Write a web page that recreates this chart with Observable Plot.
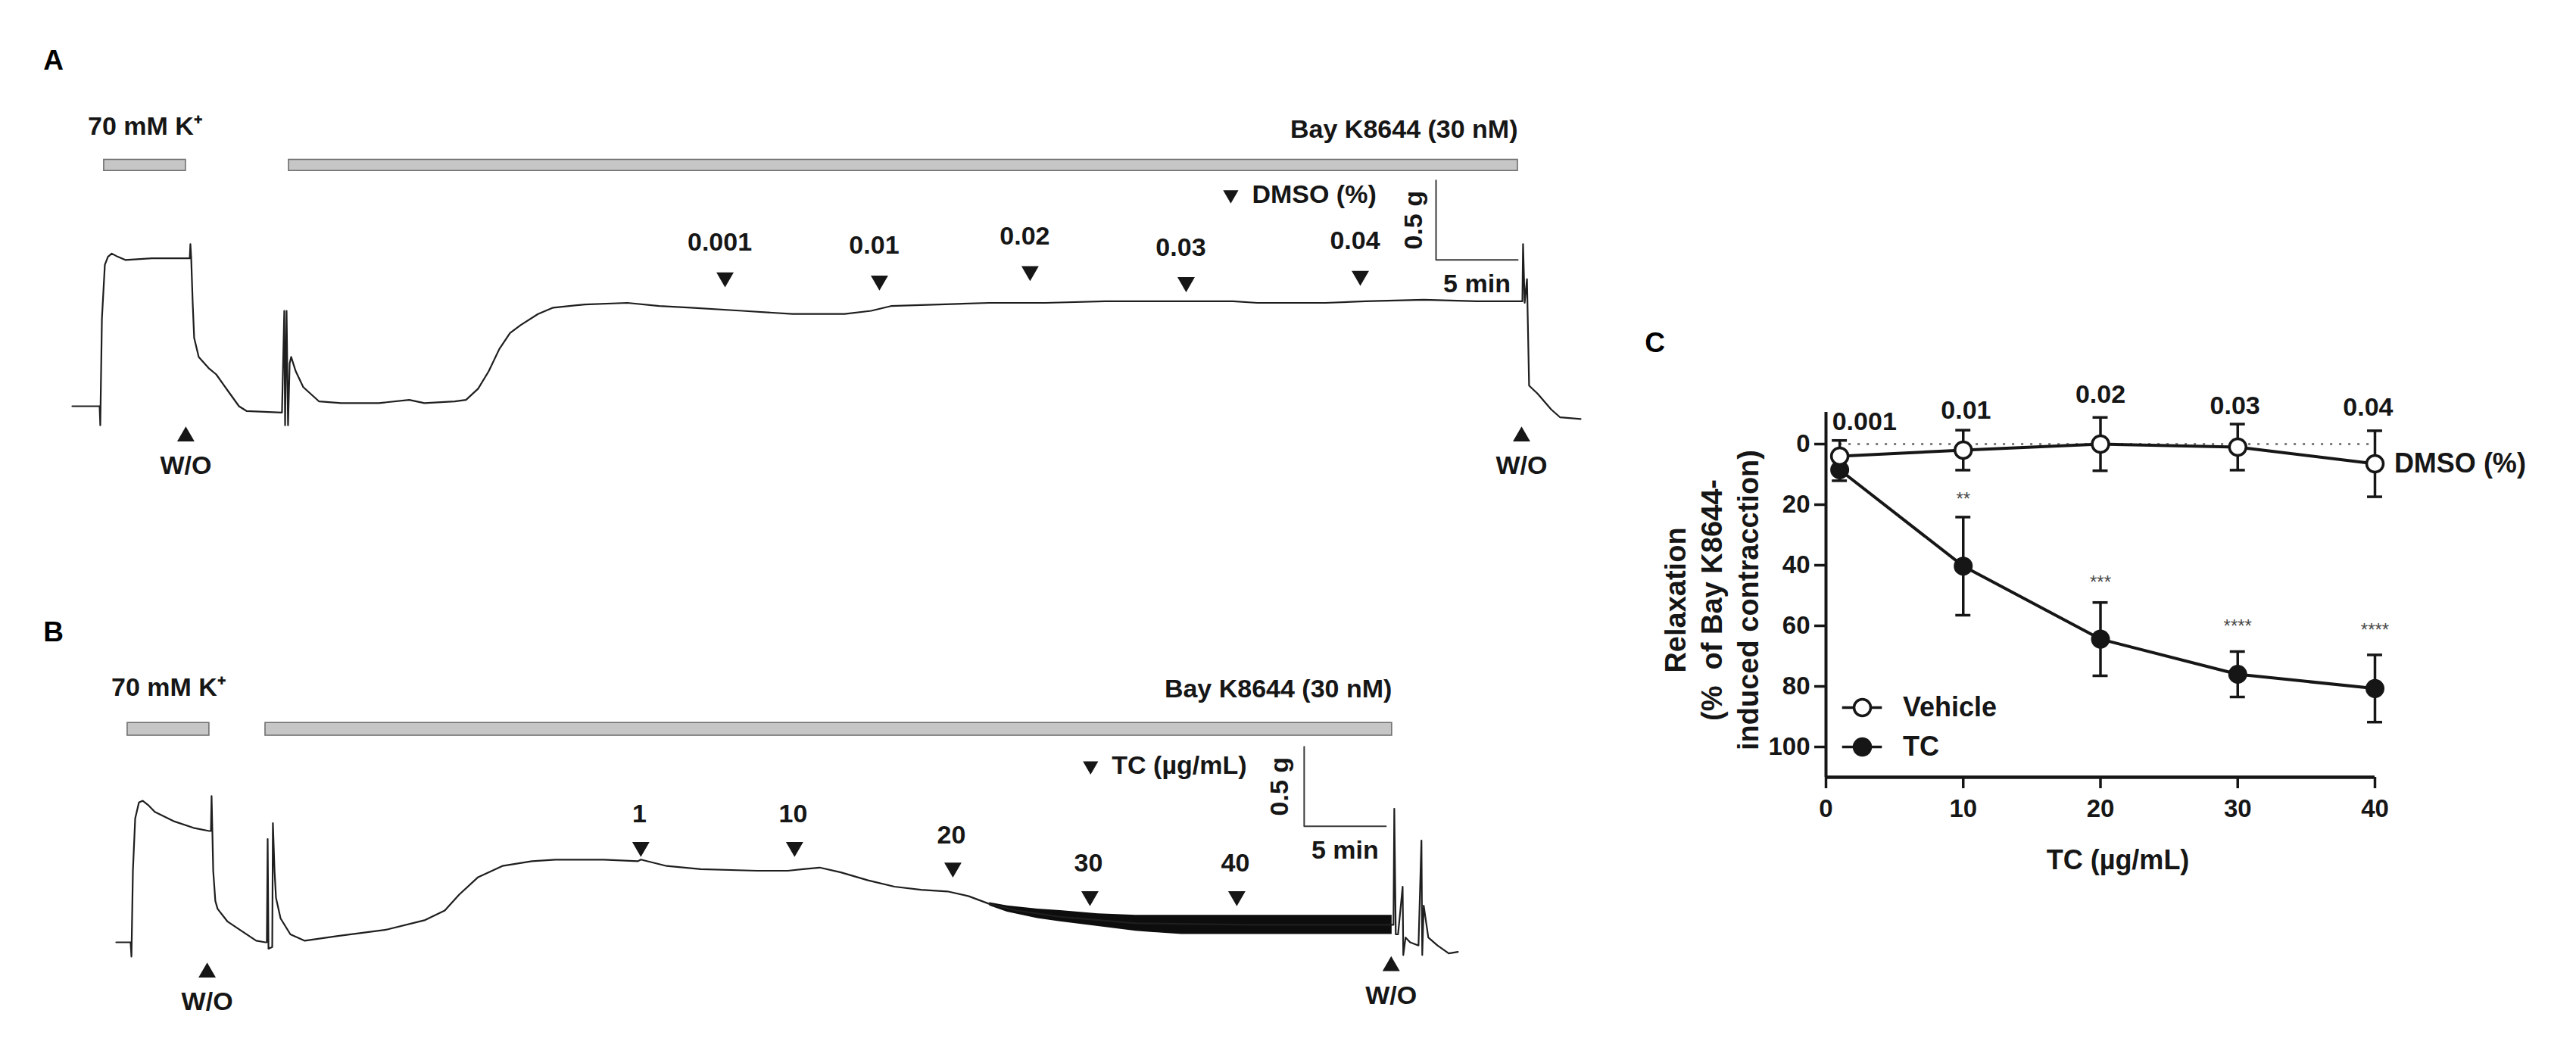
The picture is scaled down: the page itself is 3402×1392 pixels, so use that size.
<!DOCTYPE html>
<html><head><meta charset="utf-8">
<script src="https://cdn.jsdelivr.net/npm/d3@7"></script>
<script src="https://cdn.jsdelivr.net/npm/@observablehq/plot@0.6"></script>
<style>
body{margin:0;background:#fff;}
#fig{position:relative;width:3402px;height:1392px;overflow:hidden;background:#fff;}
.panel{position:absolute;}
</style></head><body><div id="fig"></div>
<script>
// ---------- Panel A: isometric tension trace, DMSO (time in min, tension in g) ----------
const tA = [0,1.67,1.71,1.81,1.99,2.18,2.41,2.78,3.24,4.86,7.04,7.18,7.22,7.27,7.36,7.45,7.73,8.33,8.80,9.49,10.19,10.65,12.82,12.96,13.01,13.10,13.19,13.29,13.38,13.66,14.12,15.09,16.44,18.75,20.60,21.53,23.38,24.07,24.81,25.46,26.11,26.76,27.41,28.47,29.40,31.34,33.94,35.88,37.82,40.97,44.03,47.22,48.84,50.05,53.01,56.06,59.49,63.15,66.90,70.97,72.45,73.80,76.62,79.07,82.64,85.88,88.66,88.70,88.80,88.94,89.07,89.58,90.42,90.97,92.22];
const gA = [0,0,-0.12,0.55,0.89,0.94,0.96,0.94,0.92,0.93,0.93,0.93,1.02,0.93,0.65,0.43,0.31,0.24,0.20,0.10,0.00,-0.03,-0.04,0.60,-0.12,0.60,-0.12,0.27,0.31,0.22,0.12,0.03,0.02,0.02,0.04,0.02,0.03,0.04,0.11,0.22,0.36,0.46,0.51,0.58,0.62,0.64,0.65,0.63,0.62,0.60,0.58,0.58,0.60,0.63,0.64,0.65,0.65,0.66,0.66,0.66,0.65,0.65,0.65,0.66,0.67,0.66,0.66,1.02,0.65,0.80,0.13,0.08,-0.02,-0.07,-0.08];
const barStartA = [1.94, 13.24];
const barEndA = [6.94, 88.38];
const barLabelsA = ["70 mM K⁺", "Bay K8644 (30 nM)"];
const doseTimesA = [39.91, 49.35, 58.56, 68.10, 78.75];
const doseMarkGA = [0.81, 0.79, 0.85, 0.78, 0.82];
const doseLabelsA = ["0.001", "0.01", "0.02", "0.03", "0.04"];
const washTimesA = [6.94, 88.61];
const washMarkGA = [-0.19, -0.19];

// ---------- Panel B: isometric tension trace, TC ----------
const tB = [0,0.88,0.93,1.02,1.16,1.39,1.62,1.99,2.36,3.56,4.72,5.69,5.79,5.83,5.88,5.93,6.06,6.20,6.81,7.69,8.56,9.12,9.21,9.26,9.31,9.54,9.58,9.68,9.77,10.05,10.65,11.53,13.56,16.53,18.89,20.09,20.97,22.13,23.61,25.42,26.85,29.81,31.90,32.08,33.66,35.74,39.21,41.06,41.99,43.01,44.31,45.97,47.59,49.21,50.83,52.13,53.43,55.05,57.73,62.36,69.31,78.01,78.10,78.15,78.24,78.38,78.66,78.70,78.84,79.12,79.63,79.81,79.86,79.95,80.23,80.79,81.48,82.04];
const gB = [0,0,-0.09,0.45,0.78,0.88,0.89,0.86,0.82,0.76,0.72,0.70,0.70,0.92,0.69,0.45,0.26,0.21,0.13,0.07,0.01,0.00,0.00,0.65,-0.04,-0.03,0.75,0.45,0.28,0.15,0.05,0.01,0.04,0.08,0.14,0.20,0.30,0.41,0.48,0.51,0.52,0.52,0.51,0.52,0.48,0.46,0.45,0.45,0.46,0.47,0.44,0.39,0.35,0.33,0.32,0.29,0.24,0.20,0.16,0.12,0.11,0.11,0.11,0.84,0.05,0.05,0.35,-0.08,0.03,0.00,-0.02,0.64,-0.08,0.23,0.03,-0.02,-0.07,-0.06];
const bandTB = [53.40, 54.49, 56.34, 57.73, 60.05, 62.36, 65.14, 69.31, 73.94, 78.01];
const bandHiB = [0.25, 0.23, 0.21, 0.20, 0.18, 0.17, 0.17, 0.17, 0.17, 0.17];
const bandLoB = [0.23, 0.19, 0.15, 0.13, 0.10, 0.07, 0.05, 0.05, 0.05, 0.05];
const barStartB = [0.69, 9.12];
const barEndB = [5.69, 78.01];
const barLabelsB = ["70 mM K⁺", "Bay K8644 (30 nM)"];
const doseTimesB = [32.08, 41.48, 51.16, 59.54, 68.52];
const doseMarkGB = [0.60, 0.60, 0.47, 0.29, 0.29];
const doseLabelsB = ["1", "10", "20", "30", "40"];
const washTimesB = [5.56, 77.96];
const washMarkGB = [-0.19, -0.15];

// ---------- Panel C: concentration–response ----------
const conc = [1, 10, 20, 30, 40];
const vehicleMean = [4, 2, 0, 1, 6.5];
const vehicleErr = [5.2, 6.6, 8.8, 7.6, 10.9];
const tcMean = [8.5, 40.3, 64.4, 76.0, 80.7];
const tcErr = [3.6, 16.2, 12.1, 7.5, 11.1];
const dmsoLabelX = [2.8, 10.2, 20, 29.8, 39.5];
const dmsoLabelY = [-7.3, -11, -16.3, -12.7, -12.2];
const dmsoLabels = ["0.001", "0.01", "0.02", "0.03", "0.04"];
const starConc = [10, 20, 30, 40];
const starY = [18.3, 45.8, 60.3, 61.5];
const starLabels = ["**", "***", "****", "****"];
const xTicksC = [0, 10, 20, 30, 40];
const yTicksC = [0, 20, 40, 60, 80, 100];
const legendLabels = ["Vehicle", "TC"];
const legendY = [87, 100];

const FONT = '"Liberation Sans", Arial, Helvetica, sans-serif';
const INK = "#161616";

function tracePanel(c) {
  const trace = c.t.map((t, i) => ({t, g: c.g[i]}));
  const band = (c.bandT || []).map((t, i) => ({t, lo: c.bandLo[i], hi: c.bandHi[i]}));
  const bars = c.barStart.map((s, i) => ({s, e: c.barEnd[i]}));
  const doses = c.doseT.map((t, i) => ({t, g: c.doseG[i], label: c.doseLabels[i]}));
  const washes = c.washT.map((t, i) => ({t, g: c.washG[i]}));
  const sb = [{t: c.sbT, g: c.sbG + 0.5}, {t: c.sbT, g: c.sbG}, {t: c.sbT + 5, g: c.sbG}];
  const txt = {fontSize: 34, fontWeight: "bold", fill: INK};
  return Plot.plot({
    width: 2150, height: c.height,
    marginLeft: c.ml, marginRight: c.mr, marginTop: c.mt, marginBottom: c.mb,
    x: {domain: [0, c.tMax], axis: null},
    y: {domain: [-0.6, 2.0], axis: null},
    style: {fontFamily: FONT, background: "transparent", overflow: "visible"},
    marks: [
      Plot.rect(bars, {x1: "s", x2: "e", y1: c.barY[0], y2: c.barY[1], fill: "#c6c6c6", stroke: "#707070", strokeWidth: 1.6}),
      Plot.text([c.barLabels[0]], {x: (bars[0].s + bars[0].e) / 2, y: c.barY[1], dy: c.barLabelDy[0], ...txt}),
      Plot.text([c.barLabels[1]], {x: bars[1].e, y: c.barY[1], dy: c.barLabelDy[1], textAnchor: "end", ...txt}),
      Plot.areaY(band, {x: "t", y1: "lo", y2: "hi", fill: "#0d0d0d"}),
      Plot.line(trace, {x: "t", y: "g", stroke: "#1e1e1e", strokeWidth: 2.2, strokeLinejoin: "round"}),
      Plot.dot(doses, {x: "t", y: "g", symbol: "triangle", r: 8.5, fill: INK, stroke: null, rotate: 180}),
      Plot.text(doses, {x: "t", y: "g", text: "label", dy: c.labelDy, dx: c.labelDx, ...txt}),
      Plot.dot(washes, {x: "t", y: "g", symbol: "triangle", r: 8.5, fill: INK, stroke: null}),
      Plot.text(washes, {x: "t", y: "g", text: () => "W/O", dy: 39, ...txt}),
      Plot.dot([0], {x: c.legT, y: c.legG, symbol: "triangle", r: 7.5, fill: INK, stroke: null, rotate: 180}),
      Plot.text([c.legText], {x: c.legT, y: c.legG, dx: 28, textAnchor: "start", ...txt}),
      Plot.line(sb, {x: "t", y: "g", stroke: "#3a3a3a", strokeWidth: 2}),
      Plot.text(["0.5 g"], {x: c.sbT, y: c.sbG + 0.25, dx: c.sbTextDx, rotate: -90, ...txt}),
      Plot.text(["5 min"], {x: c.sbT + 2.5, y: c.sbG, dy: 32, ...txt}),
      Plot.text([c.letter], {frameAnchor: "top-left", dx: c.letterDx, dy: c.letterDy, textAnchor: "middle", lineAnchor: "middle", fontSize: 37, fontWeight: "bold", fill: "#000"})
    ]
  });
}

function panelC() {
  const veh = conc.map((x, i) => ({x, m: vehicleMean[i], e: vehicleErr[i]}));
  const tc = conc.map((x, i) => ({x, m: tcMean[i], e: tcErr[i]}));
  const dl = dmsoLabels.map((s, i) => ({x: dmsoLabelX[i], y: dmsoLabelY[i], s}));
  const st = starLabels.map((s, i) => ({x: starConc[i], y: starY[i], s}));
  const lg = legendLabels.map((s, i) => ({s, y: legendY[i], fill: i === 0 ? "#fff" : INK}));
  const err = (data) => [
    Plot.ruleX(data, {x: "x", y1: d => d.m - d.e, y2: d => d.m + d.e, stroke: INK, strokeWidth: 3.5}),
    Plot.ruleY(data, {y: d => d.m - d.e, x1: d => d.x - 0.55, x2: d => d.x + 0.55, stroke: INK, strokeWidth: 3.5}),
    Plot.ruleY(data, {y: d => d.m + d.e, x1: d => d.x - 0.55, x2: d => d.x + 0.55, stroke: INK, strokeWidth: 3.5})
  ];
  const bold = {fontWeight: "bold", fill: INK};
  return Plot.plot({
    width: 1252, height: 812,
    marginLeft: 261, marginRight: 266, marginTop: 166, marginBottom: 166,
    x: {domain: [0, 40], axis: null},
    y: {domain: [-10, 110], reverse: true, axis: null},
    style: {fontFamily: FONT, background: "transparent", overflow: "visible"},
    marks: [
      Plot.ruleY([0], {x1: 1, x2: 40, stroke: "#7c7c7c", strokeWidth: 3, strokeDasharray: "3,9"}),
      ...err(tc),
      ...err(veh),
      Plot.line(tc, {x: "x", y: "m", stroke: INK, strokeWidth: 4}),
      Plot.line(veh, {x: "x", y: "m", stroke: INK, strokeWidth: 4}),
      Plot.dot(tc, {x: "x", y: "m", r: 11, fill: INK, stroke: INK, strokeWidth: 3}),
      Plot.dot(veh, {x: "x", y: "m", r: 11, fill: "#fff", stroke: INK, strokeWidth: 3.5}),
      Plot.text(dl, {x: "x", y: "y", text: "s", fontSize: 34, ...bold}),
      Plot.text(st, {x: "x", y: "y", text: "s", fontSize: 24, fill: "#4a4a4a"}),
      Plot.text(["DMSO (%)"], {x: 41.4, y: vehicleMean[4], textAnchor: "start", fontSize: 36, ...bold}),
      Plot.ruleY(lg, {y: "y", x1: 1.2, x2: 4.1, stroke: INK, strokeWidth: 3.5}),
      Plot.dot(lg, {x: 2.65, y: "y", r: 11, fill: "fill", stroke: INK, strokeWidth: 3.5}),
      Plot.text(lg, {x: 5.6, y: "y", text: "s", textAnchor: "start", fontSize: 36, ...bold}),
      Plot.axisX(xTicksC, {anchor: "bottom", tickSize: 15, tickPadding: 14, fontSize: 33, fontWeight: "bold", stroke: INK, fill: INK, strokeWidth: 3.5, label: null, tickFormat: d => String(d)}),
      Plot.axisY(yTicksC, {anchor: "left", tickSize: 15, tickPadding: 6, fontSize: 33, fontWeight: "bold", stroke: INK, fill: INK, strokeWidth: 3.5, label: null, tickFormat: d => String(d)}),
      Plot.ruleX([0], {y1: -10.5, y2: 110, stroke: INK, strokeWidth: 4}),
      Plot.ruleY([110], {x1: 0, x2: 40, stroke: INK, strokeWidth: 4.5}),
      Plot.text(["TC (µg/mL)"], {frameAnchor: "bottom", dx: 23, dy: 110, textAnchor: "middle", lineAnchor: "middle", fontSize: 36, ...bold}),
      Plot.text(["Relaxation\n(%  of Bay K8644-\ninduced contracction)"], {frameAnchor: "left", dx: -153, dy: 6, rotate: -90, textAnchor: "middle", lineAnchor: "middle", lineHeight: 1.27, fontSize: 38, ...bold}),
      Plot.text(["C"], {frameAnchor: "top-left", dx: -226, dy: -93, textAnchor: "middle", lineAnchor: "middle", fontSize: 37, fontWeight: "bold", fill: "#000"})
    ]
  });
}

const fig = document.getElementById("fig");
function place(el, left, top) {
  const d = document.createElement("div");
  d.className = "panel";
  d.style.left = left + "px";
  d.style.top = top + "px";
  d.appendChild(el);
  fig.appendChild(d);
}

place(tracePanel({
  t: tA, g: gA, height: 700, ml: 95, mr: 3, mt: 116, mb: 38, tMax: 95,
  barStart: barStartA, barEnd: barEndA, barY: [1.48, 1.55], barLabels: barLabelsA, barLabelDy: [-44, -40],
  doseT: doseTimesA, doseG: doseMarkGA, doseLabels: doseLabelsA, labelDy: -46, labelDx: -7,
  washT: washTimesA, washG: washMarkGA,
  legT: 70.83, legG: 1.33, legText: "DMSO (%)",
  sbT: 83.38, sbG: 0.92, sbTextDx: -29,
  letter: "A", letterDx: -25, letterDy: -36
}), 0, 0);

place(tracePanel({
  t: tB, g: gB, bandT: bandTB, bandLo: bandLoB, bandHi: bandHiB,
  height: 692, ml: 153, mr: 10, mt: 124, mb: 22, tMax: 92,
  barStart: barStartB, barEnd: barEndB, barY: [1.30, 1.38], barLabels: barLabelsB, barLabelDy: [-47, -45],
  doseT: doseTimesB, doseG: doseMarkGB, doseLabels: doseLabelsB, labelDy: -43, labelDx: -2,
  washT: washTimesB, washG: washMarkGB,
  legT: 59.58, legG: 1.11, legText: "TC (µg/mL)",
  sbT: 72.64, sbG: 0.73, sbTextDx: -32,
  letter: "B", letterDx: -83, letterDy: 11
}), 0, 700);

place(panelC(), 2150, 380);
</script></body></html>
